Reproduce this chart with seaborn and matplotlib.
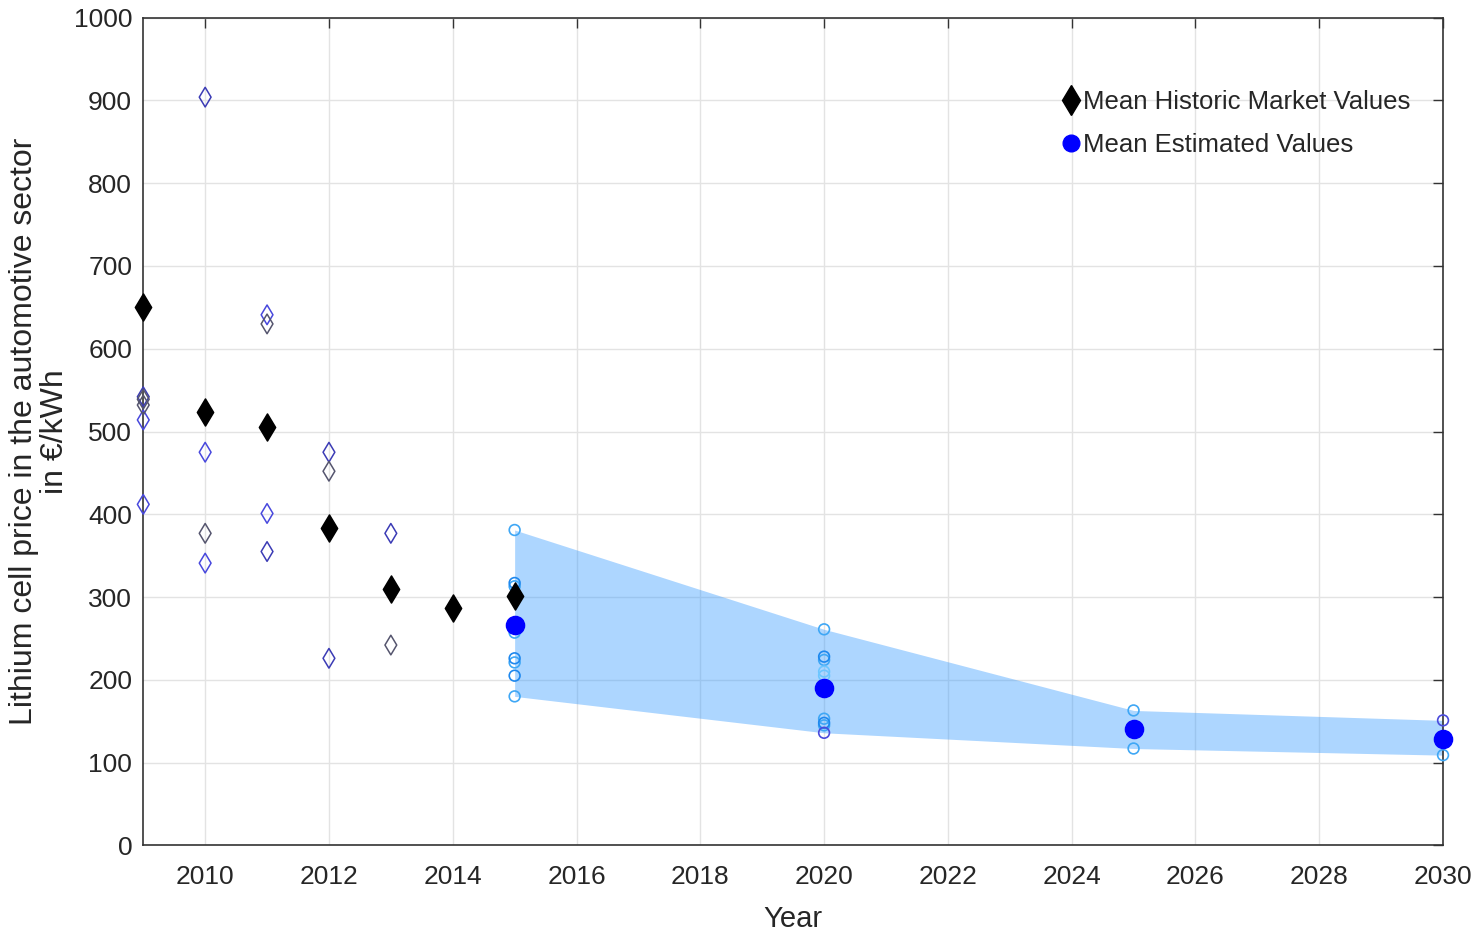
import numpy as np
import pandas as pd
import seaborn as sns
import matplotlib.pyplot as plt
from matplotlib.lines import Line2D

# historic market values (single sources)
hist_years = [2009, 2009, 2009, 2009, 2009,
              2010, 2010, 2010, 2010,
              2011, 2011, 2011, 2011,
              2012, 2012, 2012,
              2013, 2013]
hist_prices = [542, 539, 532, 514, 412,
               904, 475, 377, 341,
               641, 630, 401, 355,
               475, 452, 226,
               377, 242]
hist_source = ["a", "c", "c", "b", "b",
               "a", "b", "c", "b",
               "b", "c", "b", "a",
               "a", "c", "a",
               "a", "c"]

# mean historic market values
mean_hist_years = [2009, 2010, 2011, 2012, 2013, 2014, 2015]
mean_hist_prices = [650, 523, 505, 384, 310, 287, 301]

# estimated values (single studies)
est_years = [2015, 2015, 2015, 2015, 2015, 2015, 2015, 2015, 2015,
             2020, 2020, 2020, 2020, 2020, 2020, 2020, 2020, 2020,
             2025, 2025,
             2030, 2030]
est_prices = [381, 317, 313, 301, 257, 226, 221, 205, 180,
              261, 228, 224, 210, 205, 153, 148, 145, 136,
              163, 117,
              151, 109]
est_source = ["a", "b", "a", "c", "a", "b", "a", "b", "a",
              "a", "b", "a", "c", "c", "a", "b", "a", "d",
              "a", "a",
              "d", "a"]

# mean estimated values
mean_est_years = [2015, 2020, 2025, 2030]
mean_est_prices = [266, 190, 140, 129]

hist_df = pd.DataFrame({"Year": hist_years, "Price": hist_prices, "Source": hist_source})
est_df = pd.DataFrame({"Year": est_years, "Price": est_prices, "Source": est_source})
band = est_df.groupby("Year")["Price"].agg(["min", "max"]).reset_index()

sns.set_style("white")
plt.rcParams["font.family"] = ["Liberation Sans Narrow", "Liberation Sans", "DejaVu Sans"]

fig = plt.figure(figsize=(14.77, 9.31), dpi=100)
ax = fig.add_axes([0.097, 0.092, 0.88, 0.889])

ax.fill_between(band["Year"], band["min"], band["max"], color="#3399ff", alpha=0.4,
                linewidth=0, zorder=1)

hist_pal = {"a": "#3b3bb5", "b": "#4848dd", "c": "#55556e"}
for src, col in hist_pal.items():
    sub = hist_df[hist_df["Source"] == src]
    sns.scatterplot(data=sub, x="Year", y="Price", marker="d", s=100,
                    facecolors="none", edgecolor=col, linewidth=1.1, ax=ax, zorder=3,
                    clip_on=False)

est_pal = {"a": "#3fa7f5", "b": "#1e88ee", "c": "#6cc6ff", "d": "#4a4adc"}
for src, col in est_pal.items():
    sub = est_df[est_df["Source"] == src]
    sns.scatterplot(data=sub, x="Year", y="Price", marker="o", s=60,
                    facecolors="none", edgecolor=col, linewidth=1.2, ax=ax, zorder=3,
                    clip_on=False)

sns.scatterplot(x=mean_hist_years, y=mean_hist_prices, marker="d", s=190,
                color="black", edgecolor="black", ax=ax, zorder=4, clip_on=False)
sns.scatterplot(x=mean_est_years, y=mean_est_prices, marker="o", s=170,
                color="#0000ff", edgecolor="#0000ff", ax=ax, zorder=5, clip_on=False)

ax.set_xlim(2009, 2030)
ax.set_ylim(0, 1000)
ax.set_xticks(np.arange(2010, 2031, 2))
ax.set_yticks(np.arange(0, 1001, 100))
ax.grid(True, color="#e3e3e3", linewidth=1.0, zorder=0)
ax.set_axisbelow(True)
ax.tick_params(direction="in", length=7, width=1, colors="#333333", labelsize=19,
               top=True, right=True, labelcolor="#262626")
ax.tick_params(axis="x", pad=14)
ax.tick_params(axis="y", pad=8)
for sp in ax.spines.values():
    sp.set_color("#333333")
    sp.set_linewidth(1.2)

ax.set_xlabel("Year", fontsize=21, color="#262626", labelpad=12)
ax.set_ylabel("Lithium cell price in the automotive sector\nin €/kWh", fontsize=23,
              color="#262626", linespacing=1.05)
ax.yaxis.set_label_coords(-0.056, 0.5)

handles = [Line2D([], [], marker="d", color="black", linestyle="none", markersize=15),
           Line2D([], [], marker="o", color="#0000ff", linestyle="none", markersize=12)]
ax.legend(handles, ["Mean Historic Market Values", "Mean Estimated Values"],
          loc="upper left", bbox_to_anchor=(0.7, 0.925), frameon=False, fontsize=18.5,
          handlelength=0.6, handletextpad=0.15, labelspacing=0.75, borderaxespad=0)

fig.savefig("out.png", dpi=100)
plt.close(fig)
